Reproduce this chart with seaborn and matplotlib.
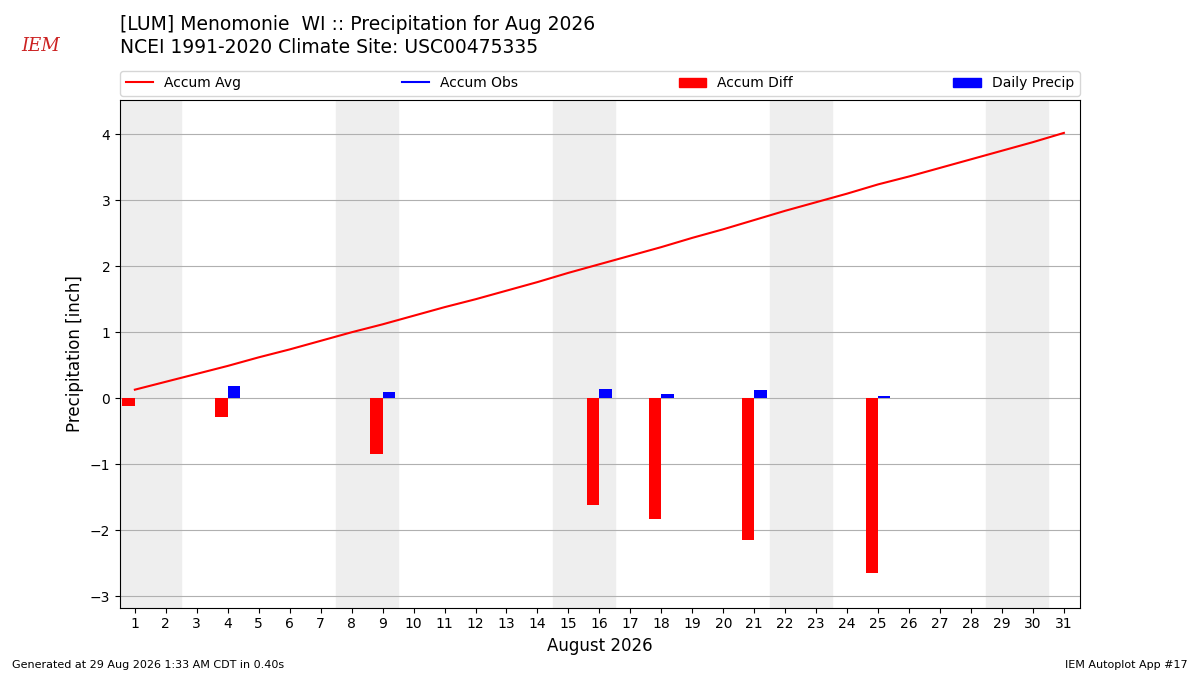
import matplotlib
matplotlib.use("Agg")
import matplotlib.pyplot as plt
import seaborn as sns
import numpy as np
from matplotlib.patches import Patch
from matplotlib.lines import Line2D

sns.set_theme(style="ticks", rc=matplotlib.rcParamsDefault)
plt.rcParams['font.family'] = ['DejaVu Sans']

days = list(range(1, 32))
accum_avg = [0.13, 0.25, 0.37, 0.49, 0.62, 0.74, 0.87, 1.00, 1.12, 1.25, 1.38, 1.50,
             1.63, 1.76, 1.90, 2.03, 2.16, 2.29, 2.43, 2.56, 2.70, 2.84, 2.97, 3.10,
             3.24, 3.36, 3.49, 3.62, 3.75, 3.88, 4.02]
obs_days = [1, 4, 9, 16, 18, 21, 25]
accum_diff = [-0.11, -0.29, -0.85, -1.62, -1.83, -2.14, -2.65]
daily_precip = [0.01, 0.18, 0.09, 0.14, 0.06, 0.12, 0.03]
weekend_start = [1, 8, 15, 22, 29]

fig = plt.figure(figsize=(12, 6.75), dpi=100)
ax = fig.add_axes([0.1, 0.1, 0.8, 0.752])
for d in weekend_start:
    ax.axvspan(d - 0.5, d + 1.5, color="#eeeeee", zorder=0)
ax.grid(axis="y", color="#b0b0b0", lw=0.8, zorder=1)
ax.set_axisbelow(True)
sns.lineplot(x=days, y=accum_avg, color="red", lw=1.5, ax=ax, zorder=3)
ax.bar(np.array(obs_days) - 0.2, accum_diff, width=0.4, color="red", lw=0, zorder=3)
ax.bar(np.array(obs_days) + 0.2, daily_precip, width=0.4, color="blue", lw=0, zorder=3)
ax.set_xlim(0.52, 31.52)
ax.set_ylim(-3.17, 4.52)
ax.set_xticks(days)
ax.set_xlabel("August 2026", fontsize=12)
ax.set_ylabel("Precipitation [inch]", fontsize=12)
ax.tick_params(labelsize=10, length=3.5)

handles = [Line2D([], [], color="red"), Line2D([], [], color="blue"),
           Patch(color="red"), Patch(color="blue")]
labels = ["Accum Avg", "Accum Obs", "Accum Diff", "Daily Precip"]
fig.legend(handles, labels, loc="lower left", bbox_to_anchor=(0.1, 0.858, 0.8, 0.04),
           ncol=4, mode="expand", fontsize=10, frameon=True, borderaxespad=0)

fig.text(0.1, 0.95, "[LUM] Menomonie  WI :: Precipitation for Aug 2026", fontsize=13.5, va="bottom")
fig.text(0.1, 0.915, "NCEI 1991-2020 Climate Site: USC00475335", fontsize=13.5, va="bottom")
fig.text(0.01, 0.01, "Generated at 29 Aug 2026 1:33 AM CDT in 0.40s", fontsize=8)
fig.text(0.99, 0.01, "IEM Autoplot App #17", fontsize=8, ha="right")
fig.text(0.018, 0.925, "IEM", fontsize=13, color="#cc2222", style="italic", family="serif")
fig.savefig("out.png")
